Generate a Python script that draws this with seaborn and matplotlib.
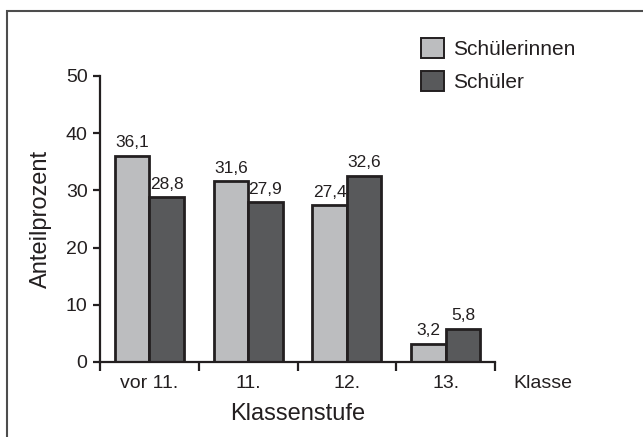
import matplotlib
matplotlib.use("Agg")
import pandas as pd
import seaborn as sns
import matplotlib.pyplot as plt
from matplotlib.patches import Patch, Rectangle

# Daten
stufen = ["vor 11.", "11.", "12.", "13."]
schuelerinnen = [36.1, 31.6, 27.4, 3.2]
schueler = [28.8, 27.9, 32.6, 5.8]
gruppen = ["Schülerinnen", "Schüler"]
farben = ["#bcbdbf", "#58595b"]
yticks = [0, 10, 20, 30, 40, 50]

df = pd.DataFrame({
    "Klassenstufe": stufen * 2,
    "Anteil": schuelerinnen + schueler,
    "Gruppe": [gruppen[0]] * len(stufen) + [gruppen[1]] * len(stufen),
})

sns.set_style("white")
plt.rcParams['font.family'] = ['Liberation Sans', 'DejaVu Sans']
dunkel = "#231f20"

fig = plt.figure(figsize=(6.43, 4.37), dpi=100)
ax = fig.add_axes([100 / 643, 1 - 362 / 437, 395 / 643, 286 / 437])

sns.barplot(data=df, x="Klassenstufe", y="Anteil", hue="Gruppe",
            palette=farben, saturation=1, width=0.7,
            edgecolor=dunkel, linewidth=2.0, legend=False, ax=ax)

# Werte über den Balken
for cont, werte in zip(ax.containers, [schuelerinnen, schueler]):
    ax.bar_label(cont, labels=[f"{v:.1f}".replace(".", ",") for v in werte],
                 padding=4, fontsize=12.5, color=dunkel)

ax.set_xlim(-0.5, len(stufen) - 0.5)
ax.set_ylim(0, 50)
ax.set_yticks(yticks)
ax.set_xticks(range(len(stufen)))
ax.set_xticks([i - 0.5 for i in range(len(stufen) + 1)], minor=True)
ax.set_xticklabels(stufen)

for s in ["top", "right"]:
    ax.spines[s].set_visible(False)
for s in ["left", "bottom"]:
    ax.spines[s].set_color(dunkel)
    ax.spines[s].set_linewidth(1.6)

ax.tick_params(axis="y", which="major", direction="out", length=5, width=1.6,
               color=dunkel, labelsize=14, pad=4, left=True, labelcolor=dunkel)
ax.tick_params(axis="x", which="major", length=0, labelsize=14, pad=9,
               labelcolor=dunkel)
ax.tick_params(axis="x", which="minor", direction="out", length=6.5, width=1.6,
               color=dunkel, bottom=True)

ax.set_xlabel("Klassenstufe", fontsize=17, labelpad=8, color=dunkel)
ax.set_ylabel("Anteilprozent", fontsize=17, labelpad=10, color=dunkel)

fig.text(513 / 643, 1 - 383 / 437, "Klasse", fontsize=14, ha="left",
         va="center", color=dunkel)

# Legende
handles = [Patch(facecolor=f, edgecolor=dunkel, linewidth=1.4, label=g)
           for f, g in zip(farben, gruppen)]
fig.legend(handles=handles, loc="upper left",
           bbox_to_anchor=(421 / 643, 1 - 38 / 437), frameon=False,
           fontsize=15, handlelength=1.1, handleheight=1.1,
           handletextpad=0.45, labelspacing=0.55, borderpad=0, borderaxespad=0,
           labelcolor=dunkel)

# Rahmen
fig.patches.append(Rectangle((7 / 643, -0.1), 1.0, 1.1 - 11 / 437,
                             transform=fig.transFigure, fill=False,
                             edgecolor="#4d4d4d", linewidth=1.5))

fig.savefig("out.png", dpi=100)
